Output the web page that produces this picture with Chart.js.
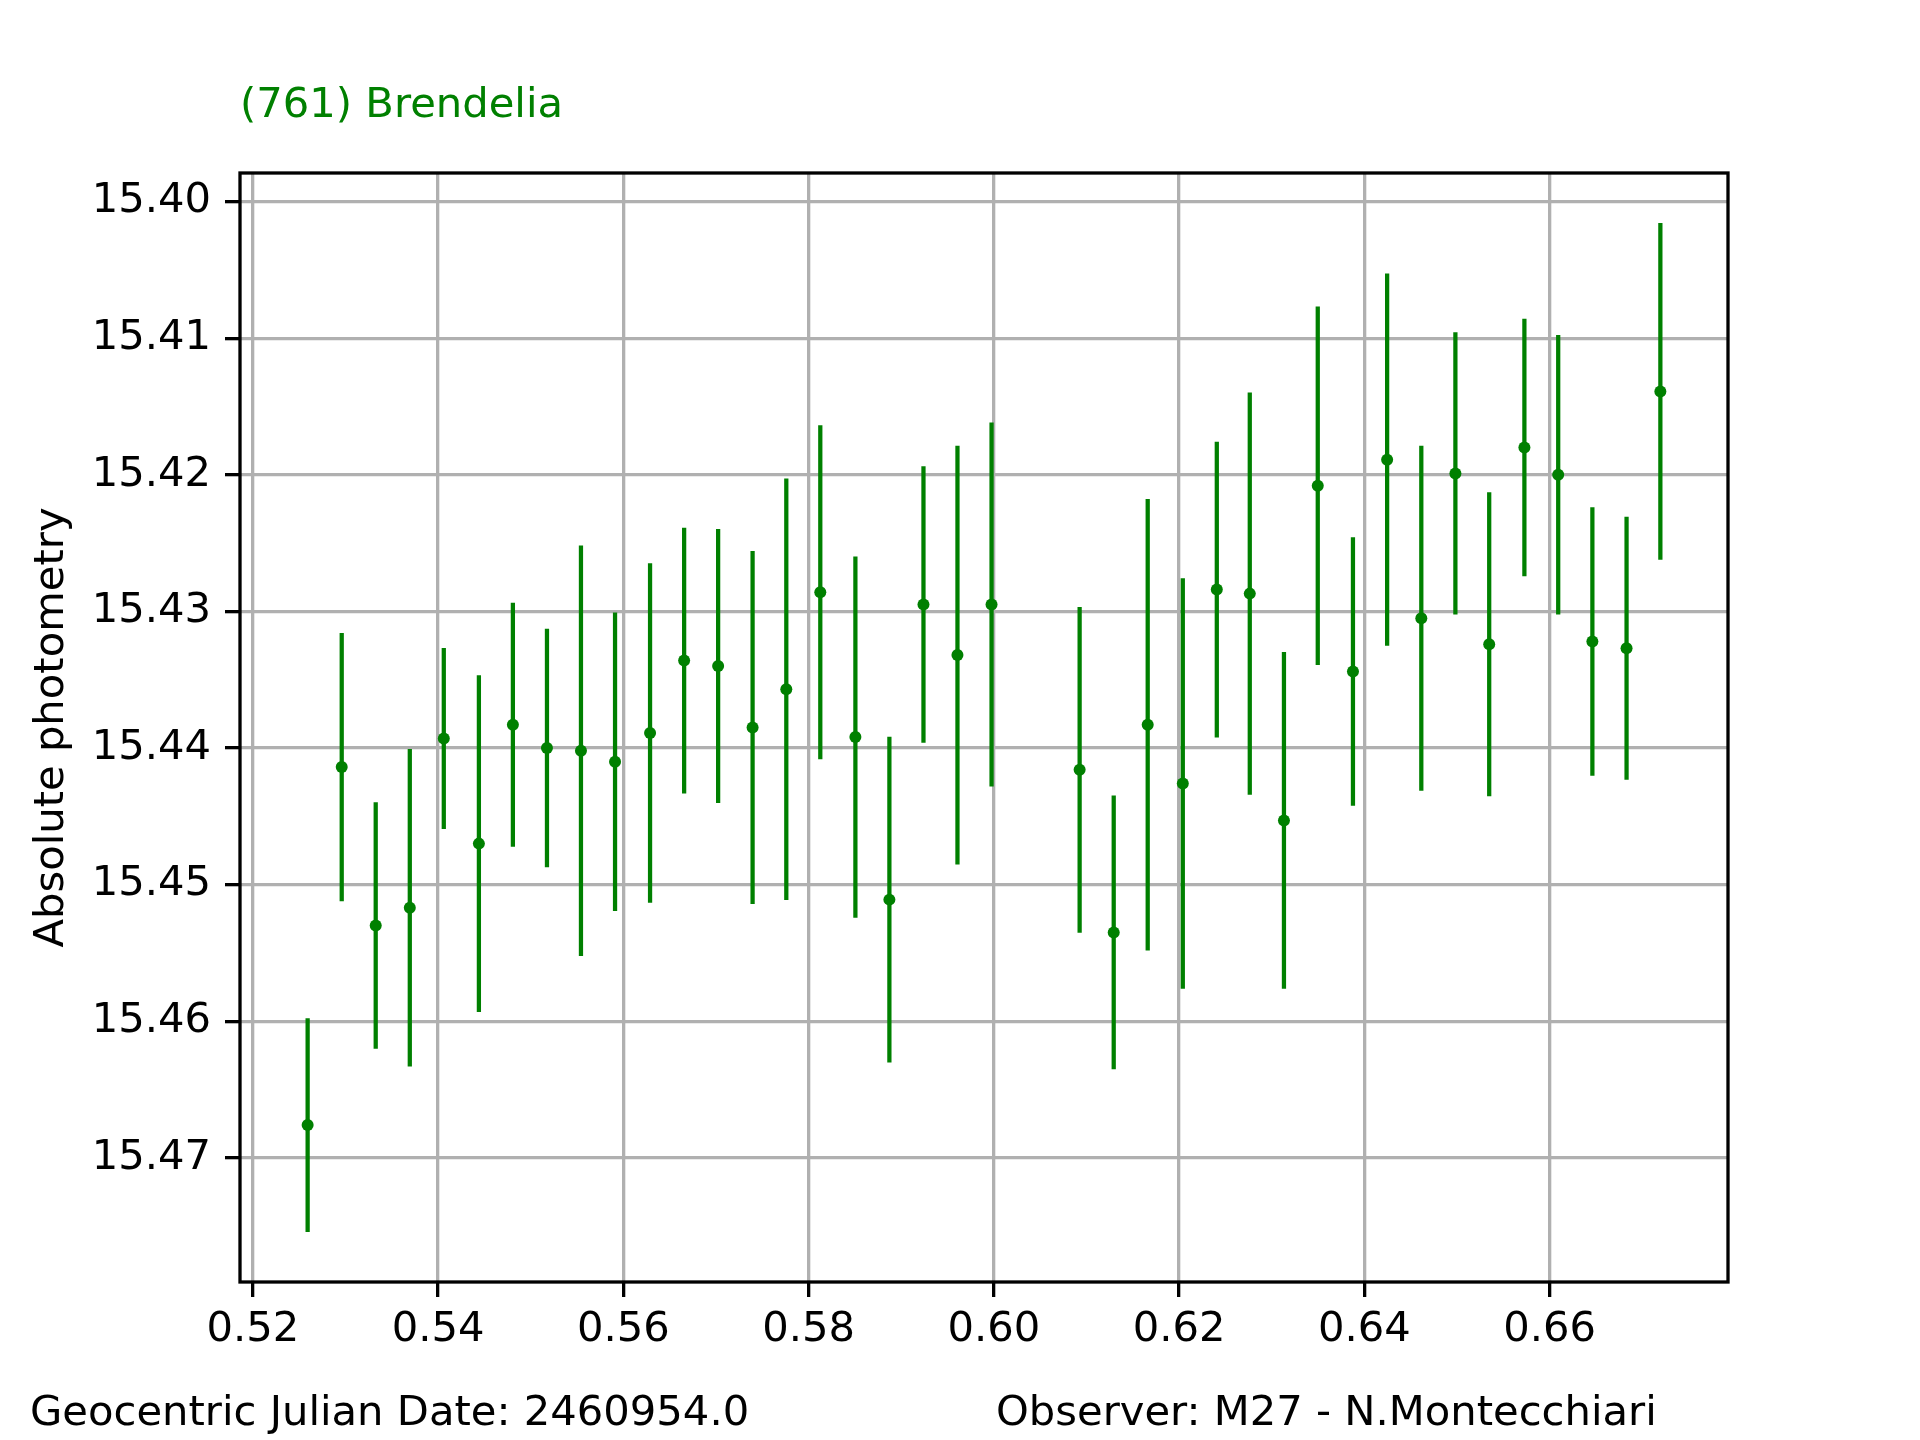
<!DOCTYPE html>
<html>
<head>
<meta charset="utf-8">
<title>(761) Brendelia</title>
<script src="https://cdn.jsdelivr.net/npm/chart.js@4.4.1/dist/chart.umd.min.js"></script>
<style>
  html, body { margin: 0; padding: 0; background: #fff; }
  canvas { display: block; }
</style>
</head>
<body>
<canvas id="lightcurve" width="1920" height="1440"></canvas>
<script>
const objectName = "(761) Brendelia";
const dateLabel = "Geocentric Julian Date: 2460954.0";
const observerLabel = "Observer: M27 - N.Montecchiari";
const yLabel = "Absolute photometry";

// fraction of the JD, magnitude and its error
const jdFraction = [
  0.52591, 0.52959, 0.53326, 0.53694, 0.54061, 0.54440, 0.54807, 0.55175, 0.55542, 0.55910,
  0.56288, 0.56656, 0.57023, 0.57395, 0.57759, 0.58126, 0.58505, 0.58872, 0.59240, 0.59607,
  0.59975, 0.60926, 0.61294, 0.61661, 0.62040, 0.62407, 0.62763, 0.63132, 0.63497, 0.63877,
  0.64246, 0.64615, 0.64983, 0.65348, 0.65728, 0.66093, 0.66462, 0.66831, 0.67196
];
const magnitude = [
  15.4676, 15.4414, 15.4530, 15.4517, 15.4393, 15.4470, 15.4383, 15.4400, 15.4402, 15.4410,
  15.4389, 15.4336, 15.4340, 15.4385, 15.4357, 15.4286, 15.4392, 15.4511, 15.4295, 15.4332,
  15.4295, 15.4416, 15.4535, 15.4383, 15.4426, 15.4284, 15.4287, 15.4453, 15.4208, 15.4344,
  15.4189, 15.4305, 15.4199, 15.4324, 15.4180, 15.4200, 15.4322, 15.4327, 15.4139
];
const magError = [
  0.0078, 0.0098, 0.0090, 0.0116, 0.0066, 0.0123, 0.0089, 0.0087, 0.0150, 0.0109,
  0.0124, 0.0097, 0.0100, 0.0129, 0.0154, 0.0122, 0.0132, 0.0119, 0.0101, 0.0153,
  0.0133, 0.0119, 0.0100, 0.0165, 0.0150, 0.0108, 0.0147, 0.0123, 0.0131, 0.0098,
  0.0136, 0.0126, 0.0103, 0.0111, 0.0094, 0.0102, 0.0098, 0.0096, 0.0123
];

const xTicks = [0.52, 0.54, 0.56, 0.58, 0.60, 0.62, 0.64, 0.66];
const yTicks = [15.40, 15.41, 15.42, 15.43, 15.44, 15.45, 15.46, 15.47];

const GREEN = "#008000";
const FONT = { family: "'DejaVu Sans'", size: 41.7 };

// autoscale with 5% margins, like matplotlib
function paddedRange(lo, hi) {
  const m = (hi - lo) * 0.05;
  return [lo - m, hi + m];
}
const [xMin, xMax] = paddedRange(Math.min(...jdFraction), Math.max(...jdFraction));
const lows = magnitude.map((m, i) => m - magError[i]);
const highs = magnitude.map((m, i) => m + magError[i]);
const [yMin, yMax] = paddedRange(Math.min(...lows), Math.max(...highs));

const errorBars = jdFraction.map((x, i) => ({ x, y: [lows[i], highs[i]] }));
const points = jdFraction.map((x, i) => ({ x, y: magnitude[i] }));

const frameAndText = {
  id: "frameAndText",
  afterDraw(chart) {
    const { ctx, chartArea: a } = chart;
    ctx.save();
    ctx.strokeStyle = "#000";
    ctx.lineWidth = 3.3;
    ctx.strokeRect(a.left, a.top, a.right - a.left, a.bottom - a.top);
    ctx.font = "41.7px 'DejaVu Sans'";
    ctx.textBaseline = "alphabetic";
    ctx.textAlign = "left";
    ctx.fillStyle = GREEN;
    ctx.fillText(objectName, a.left, 117);
    ctx.fillStyle = "#000";
    ctx.fillText(dateLabel, 30, 1425);
    ctx.fillText(observerLabel, 996, 1425);
    ctx.restore();
  }
};

const gridOpts = {
  color: "#b0b0b0",
  lineWidth: 3.3,
  tickLength: 15,
  tickColor: "#000",
  tickWidth: 3.3,
  offset: false
};

new Chart(document.getElementById("lightcurve"), {
  type: "bar",
  data: {
    datasets: [
      {
        type: "scatter",
        data: points,
        pointRadius: 6,
        pointBorderWidth: 0,
        pointBackgroundColor: GREEN,
        pointBorderColor: GREEN,
        order: 0
      },
      {
        type: "bar",
        data: errorBars,
        backgroundColor: GREEN,
        borderWidth: 0,
        barThickness: 3.6,
        grouped: false,
        order: 1
      }
    ]
  },
  options: {
    responsive: false,
    animation: false,
    devicePixelRatio: 1,
    layout: { padding: { top: 173, right: 192, left: 0, bottom: 0 } },
    plugins: { legend: { display: false }, tooltip: { enabled: false } },
    scales: {
      x: {
        type: "linear",
        min: xMin,
        max: xMax,
        offset: false,
        afterBuildTicks: (s) => { s.ticks = xTicks.map((v) => ({ value: v })); },
        afterFit: (s) => { s.height = 158; },
        ticks: {
          callback: (v) => v.toFixed(2),
          font: FONT,
          color: "#000",
          padding: 8,
          maxRotation: 0,
          autoSkip: false
        },
        grid: gridOpts,
        border: { display: false }
      },
      y: {
        type: "linear",
        reverse: true,
        min: yMin,
        max: yMax,
        afterBuildTicks: (s) => { s.ticks = yTicks.map((v) => ({ value: v })); },
        afterFit: (s) => { s.width = 240; },
        ticks: {
          callback: (v) => v.toFixed(2),
          font: FONT,
          color: "#000",
          padding: 14,
          autoSkip: false
        },
        grid: gridOpts,
        border: { display: false },
        title: {
          display: true,
          text: yLabel,
          font: FONT,
          color: "#000",
          padding: { top: 27, bottom: 0 }
        }
      }
    }
  },
  plugins: [frameAndText]
});
</script>
</body>
</html>
